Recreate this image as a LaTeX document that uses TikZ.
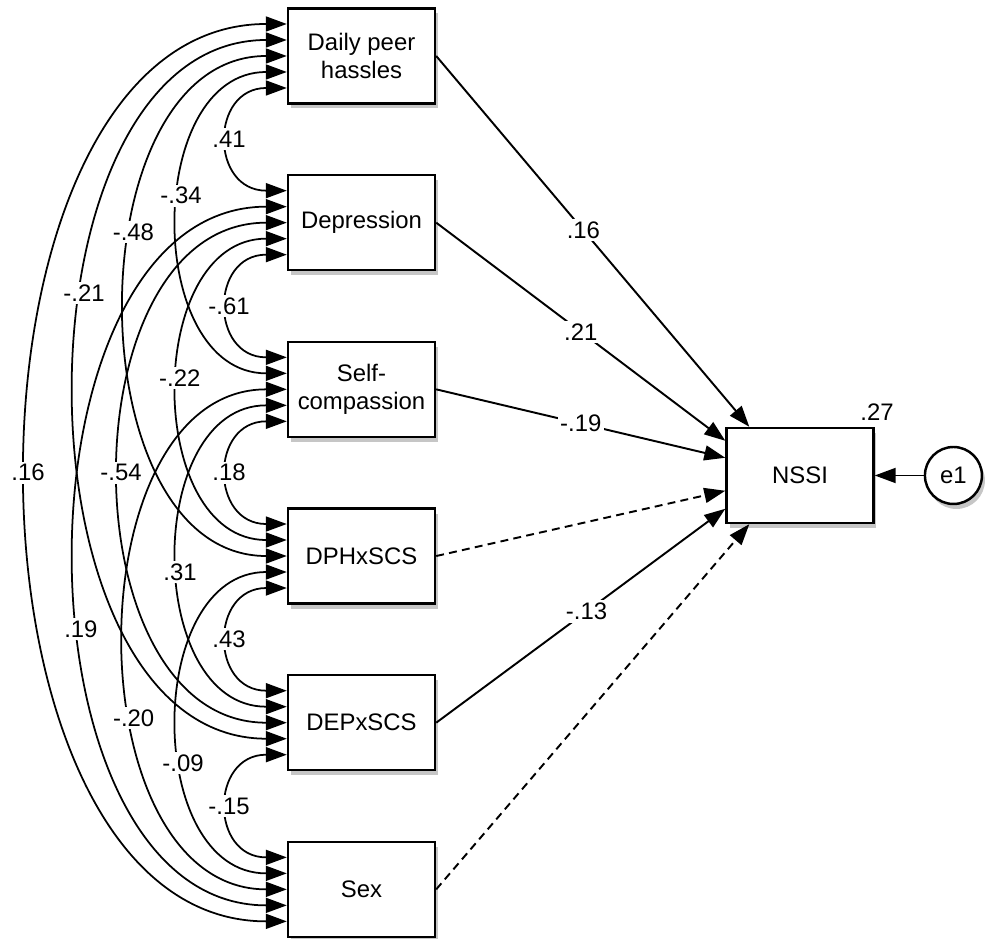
\documentclass[tikz,border=0pt]{standalone}
\usepackage{fontspec}
\setmainfont{Liberation Sans}
\usetikzlibrary{positioning,calc,shadows,arrows.meta}

\begin{document}
\begin{tikzpicture}[
        x=0.02cm, y=0.02cm,
        >={Triangle[length=0.42cm,width=0.3cm]},
        every node/.style={font=\fontsize{13.6pt}{15.5pt}\selectfont},
        shade/.style={drop shadow={shadow xshift=0.06cm, shadow yshift=-0.1cm, opacity=0.45}},
        obs/.style={draw, line width=1.4pt, fill=white, minimum width=2.94cm, minimum height=1.9cm, align=center, inner sep=0pt, shade},
        err/.style={draw, circle, line width=1.4pt, fill=white, minimum size=1.14cm, inner sep=0pt, shade},
        reg/.style={draw, line width=1.1pt, ->},
        fixed/.style={reg, dash pattern=on 4.5pt off 3pt},
        cov/.style={draw, line width=1pt, <->},
        coef/.style={fill=white, inner sep=1.5pt},
        node distance=1.385cm,
    ]
    \useasboundingbox (0,0) rectangle (987,939);

    % predictors
    \node[obs] (dph) at (361.5,883) {Daily peer\\hassles};
    \node[obs, below=of dph] (dep) {Depression};
    \node[obs, below=of dep] (sc) {Self-\\compassion};
    \node[obs, below=of sc] (dphscs) {DPHxSCS};
    \node[obs, below=of dphscs] (depscs) {DEPxSCS};
    \node[obs, below=of depscs] (sex) {Sex};

    % outcome
    \node[obs] (nssi) at (800,463.5) {NSSI};
    \node[err, right=0.98cm of nssi] (e1) {e1};
    \node (r2) at (877,527) {.27};

    % ports on the left of each box
    \foreach \b in {dph,dep,sc,dphscs,depscs,sex}
        \foreach \p in {0,...,4}
            \coordinate (\b-\p) at ($(\b.west)+(0,{(2-\p)*16})$);

    % inlets on NSSI
    \coordinate (nssi-1) at ($(nssi.north west)+(24,0)$);
    \coordinate (nssi-2) at ($(nssi.north west)+(0,-14)$);
    \coordinate (nssi-3) at ($(nssi.north west)+(0,-31)$);
    \coordinate (nssi-4) at ($(nssi.north west)+(0,-64)$);
    \coordinate (nssi-5) at ($(nssi.north west)+(0,-82)$);
    \coordinate (nssi-6) at ($(nssi.south west)+(24,0)$);

    \draw[reg] (dph.east) -- node[coef, pos=.47]{.16} (nssi-1);
    \draw[reg] (dep.east) -- node[coef]{.21} (nssi-2);
    \draw[reg] (sc.east) -- node[coef]{-.19} (nssi-3);
    \draw[fixed] (dphscs.east) -- (nssi-4);
    \draw[reg] (depscs.east) -- node[coef, pos=.52]{-.13} (nssi-5);
    \draw[fixed] (sex.east) -- (nssi-6);
    \draw[reg] (e1) -- (nssi);

    % covariances
    \def\covlist{dph-4/dep-0/77/.5/.41, dep-4/sc-0/77/.5/-.61,
        sc-4/dphscs-0/77/.5/.18, dphscs-4/depscs-0/77/.5/.43,
        depscs-4/sex-0/77/.5/-.15,
        dph-3/sc-1/143/.44/-.34, dep-3/dphscs-1/143/.475/-.22,
        sc-3/depscs-1/143/.535/.31, dphscs-3/sex-1/143/.59/-.09,
        dph-2/dphscs-2/213/.4/-.48, dep-2/depscs-2/221/.5/-.54,
        sc-2/sex-2/214/.607/-.20,
        dph-1/depscs-3/280/.407/-.21, dep-1/sex-3/280/.57/.19,
        dph-0/sex-4/345/.5/.16}
    \foreach \ua/\ub/\dist/\tpos/\lab in \covlist
        \draw[cov] (\ua) .. controls +(-\dist,0) and +(-\dist,0) .. (\ub);
    \foreach \ua/\ub/\dist/\tpos/\lab in \covlist
        \path (\ua) .. controls +(-\dist,0) and +(-\dist,0) .. node[coef, pos=\tpos]{\lab} (\ub);

\end{tikzpicture}
\end{document}
